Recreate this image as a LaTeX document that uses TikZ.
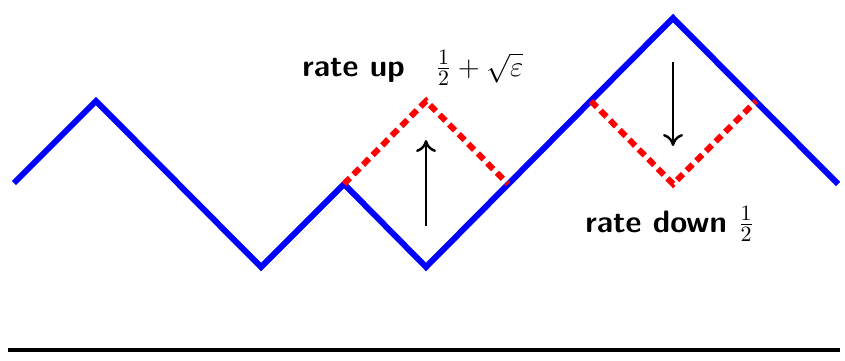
\documentclass[tikz,border=0pt]{standalone}
\usetikzlibrary{arrows.meta}
\begin{document}
\begin{tikzpicture}[x=0.5pt,y=-0.5pt,
  path/.style={blue,line width=3pt,line join=miter},
  flip/.style={red,line width=3pt,dash pattern=on 4.2pt off 2.6pt},
  move/.style={black,line width=1.4pt,-{To[length=6pt,width=10pt,line width=1.2pt]}},
  lab/.style={font=\fontsize{15.5}{18}\selectfont\sffamily\bfseries,anchor=base west,inner sep=0pt}]
\useasboundingbox (0,0) rectangle (845,360);
\coordinate (p1) at (14,183);
\coordinate (p2) at (96,101);
\coordinate (p3) at (261,267);
\coordinate (p4) at (344,184);
\coordinate (p5) at (426,267);
\coordinate (p6) at (591,101);
\coordinate (p7) at (673,18);
\coordinate (p8) at (838,184);
\coordinate (q1) at (426,101);
\coordinate (q2) at (508,184);
\coordinate (q3) at (673,184);
\coordinate (q4) at (756,101);
\draw[path] (p1) -- (p2) -- (p3) -- (p4) -- (p5) -- (p7) -- (p8);
\draw[flip] (p4) -- (q1) -- (q2);
\draw[flip] (p6) -- (q3) -- (q4);
\coordinate (u1) at (426,226);
\coordinate (u2) at (426,140);
\coordinate (d1) at (673,62);
\coordinate (d2) at (673,146);
\draw[move] (u1) -- (u2);
\draw[move] (d1) -- (d2);
\node[lab] (up) at (302,76) {rate up\hspace{1em}$\frac{1}{2}+\sqrt{\varepsilon}$};
\node[lab] (down) at (585,232) {rate down $\frac{1}{2}$};
\coordinate (b1) at (8,350);
\coordinate (b2) at (840,350);
\draw[black,line width=1.7pt] (b1) -- (b2);
\end{tikzpicture}
\end{document}
